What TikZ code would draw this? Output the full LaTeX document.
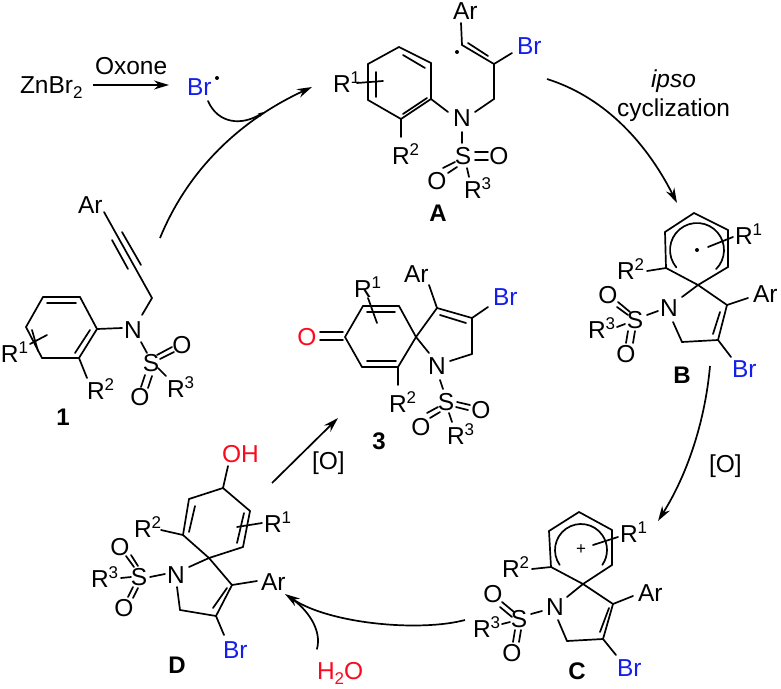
\documentclass[tikz,border=0pt]{standalone}
\usepackage{fontspec}
\setmainfont{Liberation Sans}
\usetikzlibrary{arrows.meta}
\definecolor{brblue}{RGB}{20,30,235}
\definecolor{oxred}{RGB}{250,10,30}
\newcommand\pts[1]{\foreach \n/\px/\py in {#1}{\coordinate (\n) at (\px,\py);}}
\newcommand\bonds[1]{\foreach \pa/\pb in {#1}{\draw[bond] (\pa) -- (\pb);}}
\newcommand\Rn[1]{R\raisebox{9pt}{\fontsize{17}{17}\selectfont #1}}
\tikzset{
  bond/.style={line width=1.7pt,line cap=round,line join=round,color=black},
  rxn/.style={line width=1.7pt,color=black,-{Stealth[length=15pt,width=9pt]}},
  txt/.style={inner sep=0pt,outer sep=0pt,anchor=base west,font=\fontsize{24.5}{24.5}\selectfont,text=black},
  atom/.style={inner sep=0pt,outer sep=0pt,anchor=center,font=\fontsize{24.5}{24.5}\selectfont,text=black},
  cpd/.style={inner sep=0pt,outer sep=0pt,anchor=center,font=\fontsize{24}{24}\selectfont\bfseries,text=black},
  brom/.style={txt,text=brblue},
  oxy/.style={atom,text=oxred}
}
\begin{document}
\begin{tikzpicture}[x=1pt,y=-1pt]
\useasboundingbox (0,0) rectangle (781,688);
% ---------- top reagents
\node[txt] (znbr) at (20,93) {ZnBr\raisebox{-5pt}{\fontsize{17}{17}\selectfont 2}};
\node[txt] (oxone) at (95,74) {Oxone};
\node[brom] (brrad) at (187,95) {Br};
\fill[black] (217,78) circle (2pt);
\pts{zs/93/85,ze/169/85}
\draw[rxn] (zs) -- (ze);
% ---------- compound 1
\pts{aAr/104/212,aC1/112/240,aC2/152/298,aNt/142/315,aNr/122/328,
 r1/97/329,r2/80/297,r3/43/297,r4/26/327,r5/42/358,r6/79/358,
 d1a/47/303,d1b/76/303,d2a/32/330,d2b/38/351,d3a/90/330,d3b/75/353,
 t1a/112/240,t1b/128/269,t2a/122/232,t2b/141/265,
 s1a/30/344,s1b/47/335,s2a/79/358,s2b/87/378,
 ns1/141/342,ns2/147/353,o1a/157/355,o1b/172/347,o2a/160/359,o2b/174/352,
 o3a/145/375,o3b/141/387,o4a/152/376,o4b/148/388,sr1/158/368,sr2/166/376}
\bonds{aAr/aC2,aC2/aNt,aNr/r1,r1/r2,r2/r3,r3/r4,r4/r5,r5/r6,r6/r1,d1a/d1b,d2a/d2b,d3a/d3b,t1a/t1b,t2a/t2b,s1a/s1b,s2a/s2b,ns1/ns2,o1a/o1b,o2a/o2b,o3a/o3b,o4a/o4b,sr1/sr2}
\node[txt] (ar1) at (78,213) {Ar};
\node[atom] (n1) at (133,330) {N};
\node[atom] (s1) at (151,363) {S};
\node[atom] (oa1) at (182,345) {O};
\node[atom] (ob1) at (140,397) {O};
\node[txt] (r11) at (1,362) {\Rn{1}};
\node[txt] (r21) at (87,399) {\Rn{2}};
\node[txt] (r31) at (167,397) {\Rn{3}};
\node[cpd] (lab1) at (63,417) {1};
% ---------- arrow 1 -> A with Br radical
\pts{arcS/160/238,arcE/312/87,brS/208/101,brE/264/112}
\draw[rxn] (arcS) .. controls (190,165) and (245,118) .. (arcE);
\draw[bond,-{Stealth[length=6pt,width=4pt]}] (brS) .. controls (218,124) and (242,126) .. (brE);
% ---------- compound A
\pts{bAr/461/23,bC1/462/45,bC2/494/64,bIn1/468/43,bIn2/488/56,bBr/512/53,bC3/494/99,bNr/475/112,
 bNl/448/112,q1/431/99,q2/431/63,q3/399/47,q4/368/64,q5/368/100,q6/401/119,
 e1a/403/55,e1b/425/68,e2a/376/72,e2b/376/97,e3a/403/114,e3b/427/98,
 u1a/357/83,u1b/383/81,u2b/401/137,
 ns3/462/132,ns4/462/143,oa2/475/152,ob2/488/152,oc2/475/160,od2/488/160,
 oe2/443/168,of2/455/162,og2/448/173,oh2/457/167,sr3/467/168,sr4/469/177}
\bonds{bAr/bC1,bC1/bC2,bIn1/bIn2,bC2/bBr,bC2/bC3,bC3/bNr,bNl/q1,q1/q2,q2/q3,q3/q4,q4/q5,q5/q6,q6/q1,e1a/e1b,e2a/e2b,e3a/e3b,u1a/u1b,q6/u2b,ns3/ns4,oa2/ob2,oc2/od2,oe2/of2,og2/oh2,sr3/sr4}
\fill[black] (457,52) circle (2pt);
\node[txt] (ar2) at (453,19) {Ar};
\node[brom] (br2) at (517,54) {Br};
\node[atom] (n2) at (462,118) {N};
\node[atom] (s2) at (463,156) {S};
\node[atom] (oa22) at (499,156) {O};
\node[atom] (ob22) at (437,181) {O};
\node[txt] (r12) at (333,92) {\Rn{1}};
\node[txt] (r22) at (392,164) {\Rn{2}};
\node[txt] (r32) at (464,198) {\Rn{3}};
\node[cpd] (labA) at (438,213) {A};
% ---------- arrow A -> B
\pts{abS/547/79,abE/677/203}
\draw[rxn] (abS) .. controls (601,96) and (644,138) .. (abE);
\node[txt,font=\fontsize{24.5}{24.5}\selectfont\itshape] (ipso) at (651,87) {ipso};
\node[txt] (cyc) at (617,116) {cyclization};
% ---------- compound B
\pts{bsp/698/285,c1/728/267,c2/728/230,c3/694/213,c4/665/232,c5/666/268,bc/697/250,cu1/708/247,cu2/733/237,cu3/647/271,bAr2/727/305,bAr3/748/298,
 bN1/682/297,bNS1/658/311,bNS2/647/315,bNC1/673/322,bCH/682/342,bCB/718/340,bIn3/720/312,bIn4/713/334,bBrb/731/357,
 fa/618/302,fb/630/312,fc/617/307,fd/628/315,fe/617/327,ff/625/324,fg/628/331,fh/626/343,fi/635/331,fj/633/343}
\bonds{bsp/c1,c1/c2,c2/c3,c3/c4,c4/c5,c5/bsp,cu1/cu2,c5/cu3,bsp/bAr2,bAr2/bAr3,bsp/bN1,bNS1/bNS2,bNC1/bCH,bCH/bCB,bCB/bAr2,bIn3/bIn4,bCB/bBrb,fa/fb,fc/fd,fe/ff,fg/fh,fi/fj}
\draw[bond] (bc) ++(220:27pt) arc[start angle=220,end angle=-45,radius=27pt];
\fill[black] (bc) circle (2pt);
\node[txt] (r13) at (735,244) {\Rn{1}};
\node[txt] (r23) at (617,279) {\Rn{2}};
\node[txt] (ar3) at (753,302) {Ar};
\node[atom] (n3) at (669,308) {N};
\node[atom] (s3) at (635,320) {S};
\node[atom] (oa3) at (608,295) {O};
\node[atom] (ob3) at (626,354) {O};
\node[txt] (r33) at (588,338) {\Rn{3}};
\node[brom] (br3) at (732,377) {Br};
\node[cpd] (labB) at (682,375) {B};
% ---------- arrow B -> C
\pts{bcS/710/366,bcE/658/521}
\draw[rxn] (bcS) .. controls (705,422) and (687,475) .. (bcE);
\node[txt] (o1l) at (709,472) {[O]};
% ---------- compound C
\pts{csp/583/584,g1/612/565,g2/612/530,g3/579/512,g4/549/531,g5/551/567,cc/581/550,gu1/593/545,gu2/618/537,gu3/532/569,
 cN1/567/597,cNS1/542/611,cNS2/531/614,cNC1/558/620,cCH/567/641,cCB/603/639,cAr1/613/604,cAr2/633/596,cIn1/609/608,cIn2/600/632,cBr1/616/655,
 ha/502/602,hb/514/612,hc/500/607,hd/512/617,he/502/624,hf/510/622,hg/515/630,hh/513/642,hi/521/630,hj/519/642}
\bonds{csp/g1,g1/g2,g2/g3,g3/g4,g4/g5,g5/csp,gu1/gu2,g5/gu3,csp/cN1,cNS1/cNS2,cNC1/cCH,cCH/cCB,cCB/cAr1,csp/cAr1,cAr1/cAr2,cIn1/cIn2,cCB/cBr1,ha/hb,hc/hd,he/hf,hg/hh,hi/hj}
\draw[bond] (cc) ++(215:26pt) arc[start angle=215,end angle=-35,radius=26pt];
\node[atom,font=\fontsize{17}{17}\selectfont] (plus) at (581,550) {+};
\node[txt] (r14) at (620,542) {\Rn{1}};
\node[txt] (r24) at (502,577) {\Rn{2}};
\node[txt] (ar4) at (638,601) {Ar};
\node[atom] (n4) at (555,607) {N};
\node[atom] (s4) at (519,619) {S};
\node[atom] (oa4) at (493,594) {O};
\node[atom] (ob4) at (512,653) {O};
\node[txt] (r34) at (473,637) {\Rn{3}};
\node[brom] (br4) at (617,676) {Br};
\node[cpd] (labC) at (577,671) {C};
% ---------- arrow C -> D and water
\pts{cdS/465/620,cdE/285/594,wS/317/649,wE/291/598}
\draw[rxn] (cdS) .. controls (420,632) and (330,624) .. (cdE);
\draw[bond] (wS) .. controls (322,630) and (308,610) .. (wE);
\node[txt,text=oxred] (water) at (317,679) {H\raisebox{-5pt}{\fontsize{17}{17}\selectfont 2}O};
% ---------- compound D
\pts{dOH/228/466,dC/223/488,k1/250/511,k2/243/547,dsp/209/558,k4/183/535,k5/189/499,
 ki1/195/506,ki2/189/532,kj1/244/513,kj2/237/543,du1/237/527,du2/262/523,du3/161/530,
 dN1/189/567,dNS1/165/574,dNS2/150/577,dNC1/177/587,dCH/180/610,dCB/216/616,dAr1/232/585,dAr2/257/581,dIn1/227/588,dIn2/213/608,dBr1/224/635,
 ma/126/556,mb/134/567,mc/131/555,md/138/566,me/128/597,mf/133/587,mg/133/598,mh/138/588,mi/121/578,mj/131/577}
\bonds{dOH/dC,dC/k1,k1/k2,k2/dsp,dsp/k4,k4/k5,k5/dC,ki1/ki2,kj1/kj2,du1/du2,k4/du3,dsp/dN1,dNS1/dNS2,dNC1/dCH,dCH/dCB,dCB/dAr1,dsp/dAr1,dAr1/dAr2,dIn1/dIn2,dCB/dBr1,ma/mb,mc/md,me/mf,mg/mh,mi/mj}
\node[txt,text=oxred] (oh) at (222,462) {OH};
\node[txt] (r15) at (264,532) {\Rn{1}};
\node[txt] (r25) at (134,537) {\Rn{2}};
\node[txt] (ar5) at (261,590) {Ar};
\node[atom] (n5) at (176,575) {N};
\node[atom] (s5) at (139,577) {S};
\node[atom] (oa5) at (120,547) {O};
\node[atom] (ob5) at (124,608) {O};
\node[txt] (r35) at (91,587) {\Rn{3}};
\node[brom] (br5) at (223,658) {Br};
\node[cpd] (labD) at (177,665) {D};
% ---------- arrow D -> 3
\pts{d3S/272/483,d3E/338/418}
\draw[rxn] (d3S) -- (d3E);
\node[txt] (o2l) at (312,469) {[O]};
% ---------- compound 3
\pts{w1/345/337,w2/363/306,w3/399/306,wsp/416/337,w4/398/367,w5/362/367,
 va/320/332,vb/343/332,vc/320/340,vd/343/340,
 vi1/367/312,vi2/395/312,vj1/367/361,vj2/396/361,vu1/368/298,vu2/377/323,
 xAr1/429/285,xC1/437/308,xC2/472/318,xIn1/440/315,xIn2/466/323,xBr1/488/307,xCH/472/354,xN1/450/361,xN2/429/353,
 xS1/440/380,xS2/443/389,ya/457/402,yb/470/405,yc/456/407,yd/468/410,ye/427/413,yf/438/407,yg/430/418,yh/440/412,yi/449/413,yj/452/422,xR2/398/385}
\bonds{va/vb,vc/vd,w1/w2,w2/w3,w3/wsp,wsp/w4,w4/w5,w5/w1,vi1/vi2,vj1/vj2,vu1/vu2,xAr1/xC1,xC1/wsp,xC1/xC2,xIn1/xIn2,xC2/xBr1,xC2/xCH,xCH/xN1,wsp/xN2,xS1/xS2,ya/yb,yc/yd,ye/yf,yg/yh,yi/yj,w4/xR2}
\node[oxy] (o3) at (307,337) {O};
\node[txt] (r16) at (354,297) {\Rn{1}};
\node[txt] (ar6) at (404,282) {Ar};
\node[brom] (br6) at (493,305) {Br};
\node[atom] (n6) at (437,366) {N};
\node[atom] (s6) at (446,402) {S};
\node[atom] (oa6) at (481,410) {O};
\node[atom] (ob6) at (421,427) {O};
\node[txt] (r26) at (389,412) {\Rn{2}};
\node[txt] (r36) at (447,444) {\Rn{3}};
\node[cpd] (lab3) at (379,441) {3};
\end{tikzpicture}
\end{document}
